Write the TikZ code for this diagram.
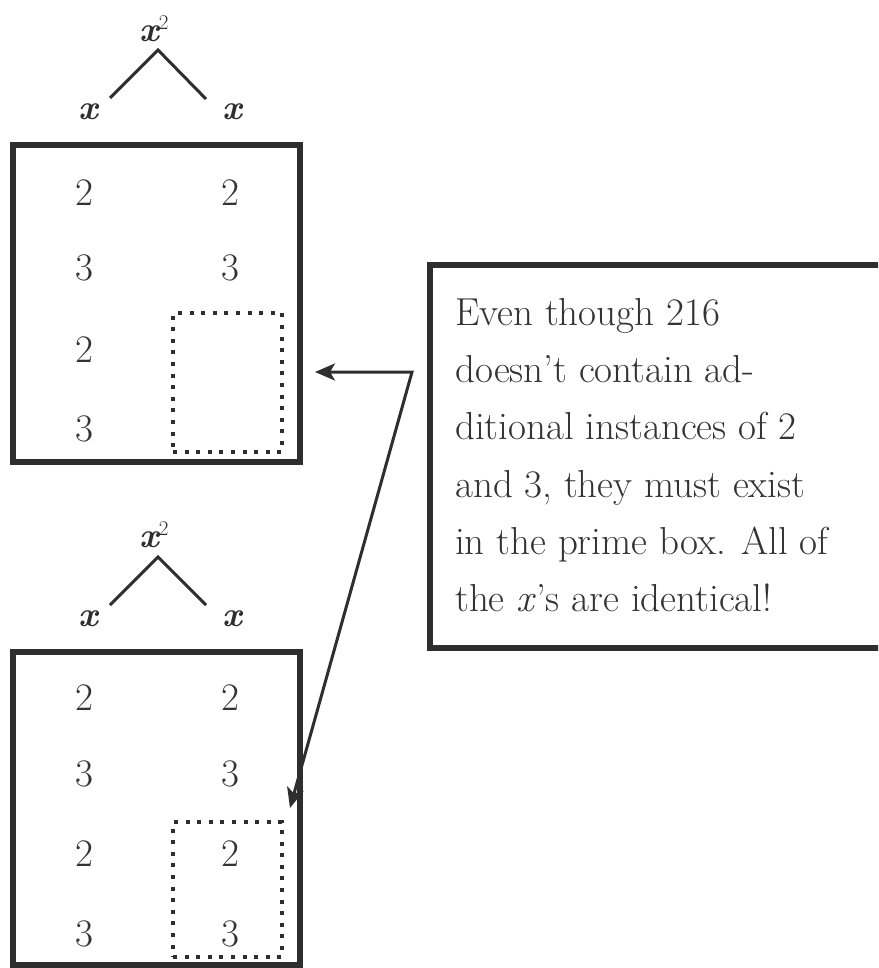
\documentclass[tikz,border=0pt]{standalone}
\usepackage{fontspec}
\usetikzlibrary{arrows.meta}
\definecolor{ink}{HTML}{2E2E2E}
\definecolor{txt}{HTML}{333333}
\begin{document}
\begin{tikzpicture}[x=1pt,y=-1pt,
  frame/.style={draw=ink,line width=5.5pt,rectangle,inner sep=0pt,outer sep=0pt},
  dotbox/.style={draw=ink,line width=4pt,dash pattern=on 4pt off 7.6pt,rectangle,inner sep=0pt,outer sep=0pt},
  num/.style={text=txt,font=\fontsize{39}{39}\selectfont,inner sep=0pt},
  xlab/.style={text=ink,font=\fontsize{35}{35}\selectfont\bfseries\itshape,inner sep=0pt},
  branch/.style={draw=ink,line width=3pt},
  arr/.style={draw=ink,line width=3pt,line join=miter,{Stealth[length=20pt,width=17pt,inset=5pt]}-{Stealth[length=20pt,width=17pt,inset=5pt]}},
  noteline/.style={text=txt,font=\fontsize{39}{39}\selectfont,anchor=base west,inner sep=0pt}
]
\path[use as bounding box] (0,0) rectangle (878,968);
\clip (0,0) rectangle (878,968);

% ---------- top tree ----------
\node[xlab,anchor=base west] (tsq) at (139,42) {x\raisebox{12pt}{\fontsize{21}{21}\selectfont\mdseries\upshape 2}};
\node[xlab,anchor=base] (tx1) at (88,120) {x};
\node[xlab,anchor=base] (tx2) at (232,120) {x};
\coordinate (tapex) at (158,50);
\coordinate (tleft) at (110,98);
\coordinate (tright) at (206,99);
\draw[branch] (tleft) -- (tapex) -- (tright);

% ---------- top box ----------
\node[frame,minimum width=287pt,minimum height=317pt] (topbox) at (156.5,303.5) {};
\node[dotbox,minimum width=109pt,minimum height=139pt] (topdots) at (227.5,382.5) {};
\node[num] (ta1) at (84,193) {2};
\node[num] (tb1) at (230,193) {2};
\node[num] (ta2) at (84,268) {3};
\node[num] (tb2) at (230,268) {3};
\node[num] (ta3) at (84,350) {2};
\node[num] (ta4) at (84,429) {3};

% ---------- bottom tree ----------
\node[xlab,anchor=base west] (bsq) at (139,547) {x\raisebox{12pt}{\fontsize{21}{21}\selectfont\mdseries\upshape 2}};
\node[xlab,anchor=base] (bx1) at (88,626) {x};
\node[xlab,anchor=base] (bx2) at (232,626) {x};
\coordinate (bapex) at (158,557);
\coordinate (bleft) at (110,605);
\coordinate (bright) at (206,605);
\draw[branch] (bleft) -- (bapex) -- (bright);

% ---------- bottom box ----------
\node[frame,minimum width=287pt,minimum height=313pt] (botbox) at (156.5,808.5) {};
\node[dotbox,minimum width=109pt,minimum height=135pt] (botdots) at (227.5,889.5) {};
\node[num] (ba1) at (84,698) {2};
\node[num] (bb1) at (230,698) {2};
\node[num] (ba2) at (84,774) {3};
\node[num] (bb2) at (230,774) {3};
\node[num] (ba3) at (84,854) {2};
\node[num] (bb3) at (230,854) {2};
\node[num] (ba4) at (84,934) {3};
\node[num] (bb4) at (230,934) {3};

% ---------- note ----------
\node[frame,minimum width=460pt,minimum height=383pt] (note) at (660,456.5) {};
\node[noteline] (l1) at (455,325) {Even though 216};
\node[noteline] (l2) at (455,382) {doesn’t contain ad-};
\node[noteline] (l3) at (455,439.5) {ditional instances of 2};
\node[noteline] (l4) at (455,497) {and 3, they must exist};
\node[noteline] (l5) at (455,554) {in the prime box. All of};
\node[noteline] (l6) at (455,611) {the \textit{x}’s are identical!};

% ---------- arrows ----------
\coordinate (bend) at (412,372);
\coordinate (tipA) at (315,372);
\coordinate (tipB) at (290,808);
\draw[arr] (tipA) -- (bend) -- (tipB);
\end{tikzpicture}
\end{document}
